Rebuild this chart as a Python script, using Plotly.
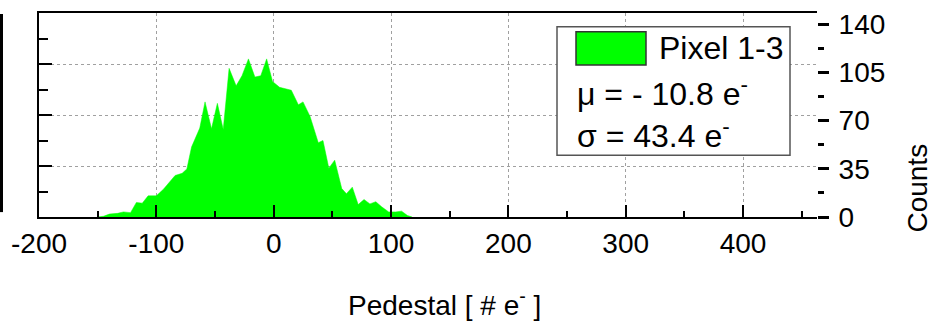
import plotly.graph_objects as go

# Histogram profile (pedestal in e-, counts)
pedestal = [-150, -145, -140, -133, -128, -122, -117, -112, -107, -100,
            -94, -88, -84, -78, -74, -70, -66, -63, -58.5, -53,
            -48, -43, -38, -32, -27, -21.5, -16, -11, -6, -1,
            5, 10, 15, 21, 25, 31, 35, 38, 42, 47,
            52, 58, 62, 67, 72, 77, 82, 87, 92, 98,
            104, 109, 114, 118]
counts = [0, 0.5, 2, 2.5, 3.5, 3, 10, 9.5, 14.5, 14.5,
          19, 25, 28.5, 30, 33, 48, 55, 61, 79, 60.5,
          78, 60, 102, 90, 97, 108.5, 96, 97, 108.5, 93,
          89, 88, 87, 77, 79, 69, 58, 51, 52.5, 33.5,
          39, 19.5, 16, 20.5, 8.5, 12, 9, 10.5, 7, 3.5,
          3.5, 4, 1, 0]

series_name = "Pixel 1-3"
mu_text = "\u03bc = - 10.8 e<sup>-</sup>"
sigma_text = "\u03c3 = 43.4 e<sup>-</sup>"
x_title = "Pedestal [ # e<sup>-</sup> ]"
y_title = "Counts"
x_ticks = [-200, -100, 0, 100, 200, 300, 400]
x_ticktext = ["-200", "-100", "0", "100", "200", "300", "400"]
y_ticks = [0, 35, 70, 105, 140]
y_ticktext = ["0", "35", "70", "105", "140"]

W, H = 938, 326
L, R, T, B = 39, 121, 9, 109
PW, PH = W - L - R, H - T - B


def px_x(p):
    return (p - L) / PW


def px_y(p):
    return (H - B - p) / PH


FONT = "Liberation Sans, Arial, sans-serif"
GREEN = "#00ff00"

fig = go.Figure()
fig.add_trace(go.Scatter(x=pedestal, y=counts, mode="lines", fill="tozeroy",
                         fillcolor=GREEN, line=dict(color=GREEN, width=0.5),
                         name=series_name, showlegend=False, hoverinfo="x+y"))
fig.add_trace(go.Scatter(x=[pedestal[0]], y=[counts[0]], yaxis="y2", mode="markers",
                         marker=dict(opacity=0), showlegend=False, hoverinfo="skip"))

fig.update_layout(
    width=W, height=H,
    margin=dict(l=L, r=R, t=T, b=B),
    paper_bgcolor="white", plot_bgcolor="white",
    font=dict(family=FONT, color="black"),
    xaxis=dict(range=[-200, 463], tickvals=x_ticks, ticktext=x_ticktext,
               ticks="inside", ticklen=12,
               tickwidth=2, tickcolor="black", showline=True, linecolor="black",
               linewidth=2, mirror=True, showgrid=True, gridcolor="#a0a0a0",
               griddash="dot", gridwidth=1, zeroline=False,
               tickfont=dict(size=28, family=FONT),
               minor=dict(dtick=50, ticks="inside", ticklen=6, tickwidth=2,
                          tickcolor="black", showgrid=False)),
    yaxis=dict(range=[0, 140], tickvals=y_ticks, ticks="inside", ticklen=13,
               tickwidth=2, tickcolor="black", showline=True, linecolor="black",
               linewidth=2, showticklabels=False, showgrid=True,
               gridcolor="#a0a0a0", griddash="dot", gridwidth=1, zeroline=False,
               minor=dict(dtick=17.5, ticks="inside", ticklen=9, tickwidth=2,
                          tickcolor="black", showgrid=False)),
    yaxis2=dict(range=[0, 148], tickvals=y_ticks, ticktext=y_ticktext,
                overlaying="y", side="right",
                ticks="outside", ticklen=11, tickwidth=2.5, tickcolor="black",
                showline=False, showgrid=False, zeroline=False,
                ticklabeloverflow="allow", ticklabelstandoff=4,
                tickfont=dict(size=28, family=FONT),
                minor=dict(dtick=17.5, ticks="outside", ticklen=6, tickwidth=2.5,
                           tickcolor="black", showgrid=False)),
    showlegend=False,
)

shapes = [
    # legend box
    dict(type="rect", xref="paper", yref="paper", x0=px_x(557), x1=px_x(790),
         y0=px_y(154), y1=px_y(23), line=dict(color="#555555", width=1.5),
         fillcolor="white", layer="above"),
    # legend swatch
    dict(type="rect", xref="paper", yref="paper", x0=px_x(576), x1=px_x(646),
         y0=px_y(62), y1=px_y(28), line=dict(color="#333333", width=1.5),
         fillcolor=GREEN, layer="above"),
    # fragment of neighbouring panel at far left
    dict(type="line", xref="paper", yref="paper", x0=px_x(1.5), x1=px_x(1.5),
         y0=px_y(212), y1=px_y(10), line=dict(color="black", width=3)),
]
fig.update_layout(shapes=shapes)

ann = [
    dict(text=series_name, x=px_x(657), y=px_y(45), xanchor="left", yanchor="middle",
         font=dict(size=32, family=FONT)),
    dict(text=mu_text, x=px_x(575), y=px_y(90), xanchor="left", yanchor="middle",
         font=dict(size=32, family=FONT)),
    dict(text=sigma_text, x=px_x(575), y=px_y(132), xanchor="left", yanchor="middle",
         font=dict(size=32, family=FONT)),
    dict(text=x_title, x=px_x(444), y=px_y(305), xanchor="center", yanchor="middle",
         font=dict(size=28, family=FONT)),
    dict(text=y_title, x=px_x(918), y=px_y(187), xanchor="center", yanchor="middle",
         textangle=-90, font=dict(size=28, family=FONT)),
]
for a in ann:
    a.update(xref="paper", yref="paper", showarrow=False)
fig.update_layout(annotations=ann)

fig.write_html("out.html")
